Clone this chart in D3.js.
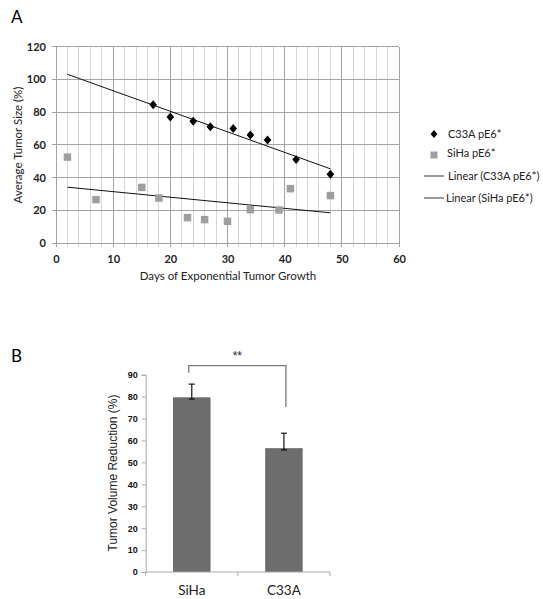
<!DOCTYPE html>
<html><head><meta charset="utf-8">
<script src="https://cdn.jsdelivr.net/npm/d3@7"></script>
<style>body{margin:0;background:#fff}svg{display:block}</style>
</head><body><svg id="c" width="543" height="599"></svg>
<script>
// ---- Panel A data ----
const c33aDays = [17, 20, 24, 27, 31, 34, 37, 42, 48];
const c33aSize = [84.5, 77, 74.5, 71, 70, 66, 63, 51, 42];
const sihaDays = [2, 7, 15, 18, 23, 26, 30, 34, 39, 41, 48];
const sihaSize = [52.5, 26.5, 34, 27.5, 15.5, 14.3, 13.3, 20.4, 20.2, 33.2, 29];
const xTicksA = [0, 10, 20, 30, 40, 50, 60];
const yTicksA = [0, 20, 40, 60, 80, 100, 120];
const trendRange = [2, 48];
const legendA = ["C33A pE6*", "SiHa pE6*", "Linear (C33A pE6*)", "Linear (SiHa pE6*)"];

// ---- Panel B data ----
const barCats = ["SiHa", "C33A"];
const barVals = [79.7, 56.5];
const errUpper = [85.7, 63.3];
const errLower = [78.9, 55.7];
const yTicksB = [0, 10, 20, 30, 40, 50, 60, 70, 80, 90];
const bracketLevels = {top: 94.1, left: 90.9, right: 75.3};
const sigLabel = "**";

const svg = d3.select("#c");
const fA = "Lato, 'Open Sans', sans-serif";
const fB = "'Liberation Sans', Arial, sans-serif";

// ===== Panel A =====
const xA = d3.scaleLinear().domain([0, 60]).range([56, 399]);
const yA = d3.scaleLinear().domain([0, 120]).range([243, 46.7]);

svg.append("text").attr("x", 11).attr("y", 23).attr("font-family", fA)
  .attr("font-size", 17).text("A");

const gA = svg.append("g");
// vertical grid (every 2 days)
const vLines = d3.range(0, 61, 2);
gA.selectAll("line.v").data(vLines).join("line")
  .attr("x1", d => xA(d)).attr("x2", d => xA(d))
  .attr("y1", yA(120)).attr("y2", yA(0) + 4)
  .attr("stroke", d => d % 10 === 0 ? "#a3a3a3" : "#d6d6d6")
  .attr("stroke-width", 1).attr("shape-rendering", "crispEdges");
// horizontal grid
gA.selectAll("line.h").data(yTicksA).join("line")
  .attr("x1", xA(0) - 4).attr("x2", xA(60))
  .attr("y1", d => yA(d)).attr("y2", d => yA(d))
  .attr("stroke", "#a3a3a3").attr("stroke-width", 1).attr("shape-rendering", "crispEdges");

// axes labels via d3 axes
const axXA = svg.append("g").attr("transform", `translate(0,${yA(0)})`)
  .call(d3.axisBottom(xA).tickValues(xTicksA).tickSize(0).tickPadding(12));
axXA.select(".domain").remove();
axXA.selectAll("text").attr("font-family", fA).attr("font-size", 11).attr("font-weight", "bold").attr("fill", "#222");
const axYA = svg.append("g").attr("transform", `translate(${xA(0)},0)`)
  .call(d3.axisLeft(yA).tickValues(yTicksA).tickSize(0).tickPadding(10));
axYA.select(".domain").remove();
axYA.selectAll("text").attr("font-family", fA).attr("font-size", 11).attr("font-weight", "bold").attr("fill", "#222");

svg.append("text").attr("transform", "translate(22,145) rotate(-90)")
  .attr("text-anchor", "middle").attr("font-family", fA).attr("font-size", 11.5)
  .attr("fill", "#222").text("Average Tumor Size (%)");
svg.append("text").attr("x", 228).attr("y", 280)
  .attr("text-anchor", "middle").attr("font-family", fA).attr("font-size", 11.5)
  .attr("fill", "#222").text("Days of Exponential Tumor Growth");

// trend lines (least squares)
function fit(xs, ys) {
  const mx = d3.mean(xs), my = d3.mean(ys);
  let sxy = 0, sxx = 0;
  xs.forEach((x, i) => { sxy += (x - mx) * (ys[i] - my); sxx += (x - mx) ** 2; });
  const b = sxy / sxx;
  return x => my + b * (x - mx);
}
const fits = [fit(c33aDays, c33aSize), fit(sihaDays, sihaSize)];
fits.forEach(f => {
  svg.append("line")
    .attr("x1", xA(trendRange[0])).attr("y1", yA(f(trendRange[0])))
    .attr("x2", xA(trendRange[1])).attr("y2", yA(f(trendRange[1])))
    .attr("stroke", "#111").attr("stroke-width", 1);
});

// SiHa squares
const sq = 7.5;
svg.selectAll("rect.siha").data(sihaDays).join("rect")
  .attr("x", d => xA(d) - sq / 2).attr("y", (d, i) => yA(sihaSize[i]) - sq / 2)
  .attr("width", sq).attr("height", sq).attr("fill", "#9e9e9e");
// C33A diamonds
const diamond = (cx, cy, r) => `M${cx},${cy - r}L${cx + r * 0.85},${cy}L${cx},${cy + r}L${cx - r * 0.85},${cy}Z`;
svg.selectAll("path.c33a").data(c33aDays).join("path")
  .attr("d", (d, i) => diamond(xA(d), yA(c33aSize[i]), 4.5)).attr("fill", "#000");

// legend
const lg = svg.append("g");
lg.append("path").attr("d", diamond(434, 134, 4)).attr("fill", "#000");
lg.append("rect").attr("x", 430.5).attr("y", 151.5).attr("width", 7).attr("height", 7).attr("fill", "#9e9e9e");
lg.append("line").attr("x1", 424).attr("x2", 444).attr("y1", 176).attr("y2", 176).attr("stroke", "#333");
lg.append("line").attr("x1", 424).attr("x2", 444).attr("y1", 198).attr("y2", 198).attr("stroke", "#333");
const lgPos = [[448, 134], [447, 153], [448, 176], [446, 198]];
legendA.forEach((t, i) => {
  lg.append("text").attr("x", lgPos[i][0]).attr("y", lgPos[i][1]).attr("dy", "0.35em")
    .attr("font-family", fA).attr("font-size", 11).attr("fill", "#222").text(t);
});

// ===== Panel B =====
const xB = d3.scaleBand().domain(barCats).range([145.7, 330]).paddingInner(0.593).paddingOuter(0.2965);
const yB = d3.scaleLinear().domain([0, 90]).range([572, 374.7]);

svg.append("text").attr("x", 11).attr("y", 362).attr("font-family", fA)
  .attr("font-size", 17).text("B");

svg.selectAll("rect.bar").data(barCats).join("rect")
  .attr("x", d => xB(d)).attr("width", xB.bandwidth())
  .attr("y", (d, i) => yB(barVals[i])).attr("height", (d, i) => yB(0) - yB(barVals[i]))
  .attr("fill", "#6d6d6d");

const axYB = svg.append("g").attr("transform", `translate(145.7,0)`)
  .call(d3.axisLeft(yB).tickValues(yTicksB).tickSize(4).tickPadding(4));
axYB.selectAll("path,line").attr("stroke", "#a8a8a8");
axYB.selectAll("text").attr("font-family", fB).attr("font-size", 9).attr("font-weight", "bold").attr("fill", "#111");

const axXB = svg.append("g").attr("transform", `translate(0,${yB(0)})`);
axXB.append("line").attr("x1", 145.7).attr("x2", 330).attr("y1", 0).attr("y2", 0).attr("stroke", "#a8a8a8");
const bTicks = [145.7, xB.step() + 145.7, 330];
axXB.selectAll("line.t").data(bTicks).join("line")
  .attr("x1", d => d).attr("x2", d => d).attr("y1", 0).attr("y2", 4).attr("stroke", "#a8a8a8");
axXB.selectAll("text").data(barCats).join("text")
  .attr("x", d => xB(d) + xB.bandwidth() / 2).attr("y", 18).attr("dy", "0.35em")
  .attr("text-anchor", "middle").attr("font-family", fA).attr("font-size", 13.5).attr("fill", "#222").text(d => d);

svg.append("text").attr("transform", "translate(117,473) rotate(-90)")
  .attr("text-anchor", "middle").attr("font-family", fB).attr("font-size", 12)
  .attr("fill", "#222").text("Tumor Volume Reduction (%)");

// error bars
barCats.forEach((c, i) => {
  const cx = xB(c) + xB.bandwidth() / 2;
  const g = svg.append("g").attr("stroke", "#111").attr("stroke-width", 1.2);
  g.append("line").attr("x1", cx).attr("x2", cx).attr("y1", yB(errUpper[i])).attr("y2", yB(errLower[i]));
  g.append("line").attr("x1", cx - 3).attr("x2", cx + 3).attr("y1", yB(errUpper[i])).attr("y2", yB(errUpper[i]));
  g.append("line").attr("x1", cx - 3).attr("x2", cx + 3).attr("y1", yB(errLower[i])).attr("y2", yB(errLower[i]));
});

// significance bracket
const cxL = xB(barCats[0]) + xB.bandwidth() / 2 - 3;
const cxR = xB(barCats[1]) + xB.bandwidth() / 2 + 2;
svg.append("path")
  .attr("d", `M${cxL},${yB(bracketLevels.left)}V${yB(bracketLevels.top)}H${cxR}V${yB(bracketLevels.right)}`)
  .attr("fill", "none").attr("stroke", "#7a7a7a").attr("stroke-width", 1.3);
svg.append("text").attr("x", (cxL + cxR) / 2).attr("y", yB(bracketLevels.top) - 6)
  .attr("text-anchor", "middle").attr("font-family", fB).attr("font-size", 12).attr("fill", "#222").text(sigLabel);
</script></body></html>
